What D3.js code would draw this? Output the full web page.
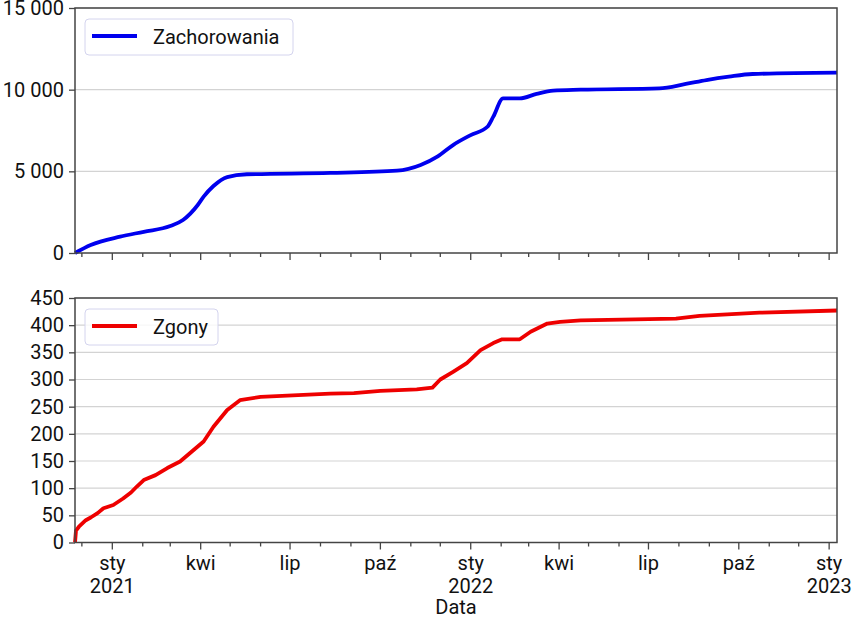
<!DOCTYPE html>
<html>
<head>
<meta charset="utf-8">
<script src="https://cdn.jsdelivr.net/npm/d3@7"></script>
<style>
  body { margin: 0; background: #fff; }
  svg { display: block; font-family: Roboto, "Noto Sans", sans-serif; }
</style>
</head>
<body>
<div id="chart"></div>
<script>
"use strict";

// cumulative cases (Zachorowania)
var casesDates = ["2020-11-24", "2020-12-10", "2021-01-09", "2021-02-02", "2021-03-01", "2021-03-14",
    "2021-03-29", "2021-04-04", "2021-04-14", "2021-04-28", "2021-05-18", "2021-08-11", "2021-10-18",
    "2021-11-11", "2021-11-28", "2021-12-14", "2022-01-01", "2022-01-18", "2022-01-24", "2022-02-03",
    "2022-02-20", "2022-03-09", "2022-03-26", "2022-04-23", "2022-07-12", "2022-08-08", "2022-08-29",
    "2022-09-21", "2022-10-15", "2023-01-09"];
var casesValues = [0, 490, 1000, 1300, 1650, 2020,
    2940, 3450, 4100, 4650, 4820, 4900, 5040,
    5390, 5900, 6610, 7220, 7730, 8350, 9470,
    9470, 9740, 9940, 10000, 10080, 10350, 10590,
    10800, 10960, 11040];

// cumulative deaths (Zgony)
var deathsDates = ["2020-11-24", "2020-11-25", "2020-11-28", "2020-12-05", "2020-12-10", "2020-12-17", "2020-12-23",
    "2021-01-02", "2021-01-12", "2021-01-20", "2021-01-26", "2021-02-02", "2021-02-14", "2021-02-26", "2021-03-11",
    "2021-03-20", "2021-04-04", "2021-04-14", "2021-04-28", "2021-05-11", "2021-06-01", "2021-08-11", "2021-09-04",
    "2021-10-01", "2021-11-07", "2021-11-23", "2021-12-01", "2021-12-14", "2021-12-28", "2022-01-11",
    "2022-01-24", "2022-02-02", "2022-02-20", "2022-03-03", "2022-03-20", "2022-04-02", "2022-04-23",
    "2022-07-29", "2022-08-22", "2022-10-22", "2023-01-09"];
var deathsValues = [0, 22, 29, 41, 46, 54, 63,
    69, 81, 92, 103, 115, 124, 137, 149,
    163, 186, 213, 244, 262, 268, 274, 275,
    279, 282, 285, 300, 314, 330, 354,
    367, 374, 374, 388, 403, 406, 409,
    412, 417, 423, 427];

var casesTicks = [0, 5000, 10000, 15000];
var deathsTicks = [0, 50, 100, 150, 200, 250, 300, 350, 400, 450];
var monthNames = ["sty", "lut", "mar", "kwi", "maj", "cze", "lip", "sie", "wrz", "paź", "lis", "gru"];
var xStart = "2020-11-24";
var xEnd = "2023-01-09";

var w = 852;
var h = 619;
var parse = d3.timeParse("%Y-%m-%d");
var fmt = d3.formatLocale({decimal: ",", thousands: " ", grouping: [3], currency: ["", " zł"]}).format(",d");

var svg = d3.select("#chart")
    .append("svg")
    .attr("width", w)
    .attr("height", h);

//Shared x scale
var x = d3.scaleTime()
    .domain([parse(xStart), parse(xEnd)])
    .range([75, 837]);

var months = d3.timeMonth.range(parse(xStart), parse(xEnd));

function drawPanel(top, bottom, dates, values, ticks, color, label, legendW, showLabels, curve) {
    var y = d3.scaleLinear()
        .domain([0, ticks[ticks.length - 1]])
        .range([bottom, top]);

    var g = svg.append("g");

    //gridlines
    g.selectAll(".grid")
        .data(ticks.slice(1))
        .enter()
        .append("line")
        .attr("x1", x.range()[0])
        .attr("x2", x.range()[1])
        .attr("y1", function (d) { return y(d); })
        .attr("y2", function (d) { return y(d); })
        .attr("stroke", "#d3d3d3")
        .attr("stroke-width", 1.2);

    //line
    var data = dates.map(function (d, i) { return {date: parse(d), value: values[i]}; });
    var line = d3.line()
        .x(function (d) { return x(d.date); })
        .y(function (d) { return y(d.value); })
        .curve(curve);

    g.append("path")
        .datum(data)
        .attr("d", line)
        .attr("fill", "none")
        .attr("stroke", color)
        .attr("stroke-width", 3.8)
        .attr("stroke-linejoin", "round");

    //frame
    g.append("rect")
        .attr("x", x.range()[0])
        .attr("y", top)
        .attr("width", x.range()[1] - x.range()[0])
        .attr("height", bottom - top)
        .attr("fill", "none")
        .attr("stroke", "#444")
        .attr("stroke-width", 1.5);

    //y axis
    var yAxis = g.append("g")
        .attr("transform", "translate(" + x.range()[0] + ",0)")
        .call(d3.axisLeft(y).tickValues(ticks).tickFormat(fmt).tickSize(6).tickPadding(5));
    yAxis.select(".domain").remove();
    yAxis.selectAll("line").attr("stroke", "#444").attr("stroke-width", 1.3);
    yAxis.selectAll("text")
        .attr("font-size", 20)
        .attr("font-family", "Roboto, sans-serif")
        .attr("fill", "#111");

    //x axis ticks
    g.selectAll(".xt")
        .data(months)
        .enter()
        .append("line")
        .attr("x1", function (d) { return x(d); })
        .attr("x2", function (d) { return x(d); })
        .attr("y1", bottom)
        .attr("y2", function (d) { return bottom + (d.getMonth() % 3 === 0 ? 7 : 4); })
        .attr("stroke", "#444")
        .attr("stroke-width", 1.3);

    if (showLabels) {
        var major = months.filter(function (d) { return d.getMonth() % 3 === 0; });
        var lab = g.selectAll(".xl")
            .data(major)
            .enter()
            .append("text")
            .attr("x", function (d) { return x(d); })
            .attr("y", bottom + 27)
            .attr("text-anchor", "middle")
            .attr("font-size", 20)
            .attr("fill", "#111");
        lab.append("tspan")
            .attr("x", function (d) { return x(d); })
            .text(function (d) { return monthNames[d.getMonth()]; });
        lab.filter(function (d) { return d.getMonth() === 0; })
            .append("tspan")
            .attr("x", function (d) { return x(d); })
            .attr("dy", 23)
            .text(function (d) { return d.getFullYear(); });
    }

    //legend
    var lg = g.append("g").attr("transform", "translate(85," + (top + 11) + ")");
    lg.append("rect")
        .attr("width", legendW)
        .attr("height", 36)
        .attr("rx", 4)
        .attr("fill", "#fff")
        .attr("fill-opacity", 0.8)
        .attr("stroke", "#d4d4ee")
        .attr("stroke-width", 1);
    lg.append("line")
        .attr("x1", 7)
        .attr("x2", 52)
        .attr("y1", 17)
        .attr("y2", 17)
        .attr("stroke", color)
        .attr("stroke-width", 3.8);
    lg.append("text")
        .attr("x", 68)
        .attr("y", 25)
        .attr("font-size", 20)
        .attr("fill", "#111")
        .text(label);
}

drawPanel(8, 253, casesDates, casesValues, casesTicks, "#0000ee", "Zachorowania", 208, false, d3.curveMonotoneX);
drawPanel(298, 542.5, deathsDates, deathsValues, deathsTicks, "#ee0000", "Zgony", 133, true, d3.curveLinear);

svg.append("text")
    .attr("x", 456)
    .attr("y", 614)
    .attr("text-anchor", "middle")
    .attr("font-size", 20)
    .attr("fill", "#111")
    .text("Data");
</script>
</body>
</html>
